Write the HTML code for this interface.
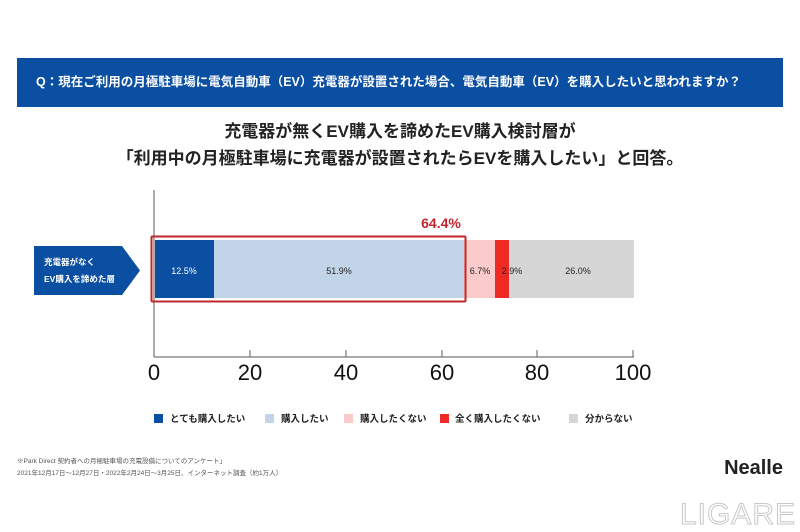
<!DOCTYPE html>
<html><head><meta charset="utf-8"><style>
body{margin:0;width:800px;height:532px;background:#fff;position:relative;overflow:hidden;font-family:"Liberation Sans","Noto Sans CJK JP",sans-serif}
.a{position:absolute}
</style></head><body>
<div class="a" style="left:17px;top:58px;width:766px;height:49px;background:#0b4fa3;color:#fff;font-size:12.5px;font-weight:bold;line-height:49px;padding-left:19px;box-sizing:border-box">Q：現在ご利用の月極駐車場に電気自動車（EV）充電器が設置された場合、電気自動車（EV）を購入したいと思われますか？</div>
<div class="a" style="left:0;top:118px;width:800px;text-align:center;font-size:17px;font-weight:bold;line-height:27px;color:#222">充電器が無くEV購入を諦めたEV購入検討層が<br>「利用中の月極駐車場に充電器が設置されたらEVを購入したい」と回答。</div>
<svg class="a" style="left:0;top:0" width="800" height="532">
<line x1="154" y1="190" x2="154" y2="357" stroke="#777" stroke-width="1.2"/>
<line x1="154" y1="357" x2="634" y2="357" stroke="#777" stroke-width="1.2"/>
<g stroke="#777" stroke-width="1.2"><line x1="250" y1="350" x2="250" y2="357"/><line x1="346" y1="350" x2="346" y2="357"/><line x1="442" y1="350" x2="442" y2="357"/><line x1="537" y1="350" x2="537" y2="357"/><line x1="633" y1="350" x2="633" y2="357"/></g>
<g font-size="22" fill="#111" text-anchor="middle" font-family="Liberation Sans,sans-serif"><text x="154" y="380">0</text><text x="250" y="380">20</text><text x="346" y="380">40</text><text x="442" y="380">60</text><text x="537" y="380">80</text><text x="633" y="380">100</text></g>
<rect x="155" y="240" width="59" height="58" fill="#0b4fa3"/>
<rect x="214" y="240" width="250" height="58" fill="#c2d4e8"/>
<rect x="464" y="240" width="31" height="58" fill="#fbcaca"/>
<rect x="495" y="240" width="14" height="58" fill="#ee2a24"/>
<rect x="509" y="240" width="125" height="58" fill="#d6d6d6"/>
<rect x="151.5" y="236.5" width="314" height="65" fill="none" stroke="#c0262b" stroke-width="2" rx="1"/>
<text x="441" y="228" fill="#c0262b" font-size="14" font-weight="bold" text-anchor="middle">64.4%</text>
<g font-size="9" text-anchor="middle" fill="#222"><text x="184" y="274" fill="#fff">12.5%</text><text x="339" y="274">51.9%</text><text x="480" y="274">6.7%</text><text x="512" y="274">2.9%</text><text x="578" y="274">26.0%</text></g>
<polygon points="34,246 122,246 140,270.5 122,295 34,295" fill="#0b4fa3"/>
<text x="44" y="265" fill="#fff" font-size="8.5" font-weight="bold">充電器がなく</text>
<text x="44" y="282" fill="#fff" font-size="8.5" font-weight="bold">EV購入を諦めた層</text>
<g font-size="9.5" fill="#222" font-weight="bold">
<rect x="154" y="414" width="9" height="9" fill="#0b4fa3"/><text x="170" y="422">とても購入したい</text>
<rect x="265" y="414" width="9" height="9" fill="#c2d4e8"/><text x="281" y="422">購入したい</text>
<rect x="344" y="414" width="9" height="9" fill="#fbcaca"/><text x="360" y="422">購入したくない</text>
<rect x="440" y="414" width="9" height="9" fill="#ee2a24"/><text x="455" y="422">全く購入したくない</text>
<rect x="569" y="414" width="9" height="9" fill="#d6d6d6"/><text x="585" y="422">分からない</text>
</g>
<text x="17" y="463" font-size="6.5" fill="#555">※Park Direct 契約者への月極駐車場の充電設備についてのアンケート」</text>
<text x="17" y="475" font-size="6.5" fill="#555">2021年12月17日〜12月27日・2022年2月24日〜3月25日、インターネット調査（約1万人）</text>
<text x="783" y="474" font-size="20" font-weight="bold" fill="#222" text-anchor="end">Nealle</text>
<text x="796" y="524" font-size="30" fill="#fff" stroke="#c8c8c8" stroke-width="1" text-anchor="end" letter-spacing="1">LIGARE</text>
</svg>
</body></html>
